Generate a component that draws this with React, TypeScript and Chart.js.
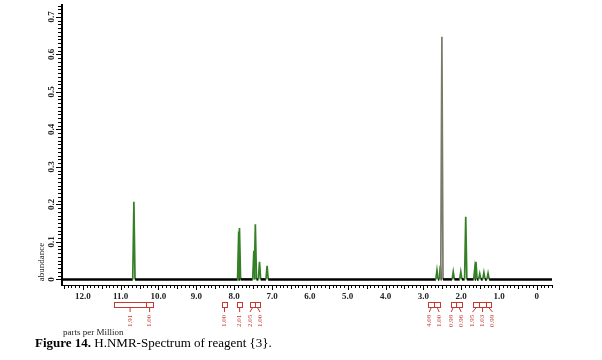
import { useEffect, useRef } from "react";
import { Chart, registerables } from "chart.js";

Chart.register(...registerables);

// 1H NMR peaks: chemical shift (ppm) and abundance
const peakShift = [10.65, 7.88, 7.86, 7.48, 7.44, 7.33, 7.13, 2.64, 2.55, 2.51, 2.21, 2.01, 1.88, 1.64, 1.61, 1.51, 1.4, 1.29];
const peakHeight = [0.207, 0.128, 0.137, 0.076, 0.147, 0.047, 0.036, 0.024, 0.037, 0.647, 0.02, 0.02, 0.167, 0.03, 0.047, 0.015, 0.018, 0.016];

// integration regions (ppm), their values and bracket groups
const intFrom = [11.17, 10.33, 8.32, 7.92, 7.58, 7.45, 2.87, 2.71, 2.28, 2.14, 1.68, 1.52, 1.35];
const intTo = [10.33, 10.14, 8.19, 7.79, 7.45, 7.32, 2.71, 2.56, 2.14, 1.97, 1.52, 1.35, 1.2];
const intValue = ["1.91", "1.00", "1.00", "2.01", "2.05", "1.00", "4.08", "1.00", "0.98", "0.96", "1.95", "1.03", "0.99"];
const intGroup = [0, 0, 1, 2, 3, 3, 4, 4, 5, 5, 6, 6, 6];

// axis ranges and tick labels
const X_MIN = -0.4;
const X_MAX = 12.55;
const Y_MIN = -0.015;
const Y_MAX = 0.732;
const yTickValues = [0, 0.1, 0.2, 0.3, 0.4, 0.5, 0.6, 0.7];
const yTickLabels = ["0", "0.1", "0.2", "0.3", "0.4", "0.5", "0.6", "0.7"];

const HALF_WIDTH = 0.03;
const GREEN = "#357f27";
const TALL = "#7b7b6b";
const RED = "#c43a32";
const SERIF = '"Liberation Serif", "Times New Roman", serif';

function buildSpectrum() {
  const pts: { x: number; y: number }[] = [{ x: X_MAX, y: 0 }];
  const order = peakShift.map((_, i) => i).sort((a, b) => peakShift[b] - peakShift[a]);
  for (const i of order) {
    pts.push({ x: peakShift[i] + HALF_WIDTH, y: 0 });
    pts.push({ x: peakShift[i], y: peakHeight[i] });
    pts.push({ x: peakShift[i] - HALF_WIDTH, y: 0 });
  }
  pts.push({ x: X_MIN, y: 0 });
  return pts;
}

const decorations = {
  id: "nmrDecorations",
  afterDraw(chart: any) {
    const { ctx, chartArea } = chart;
    const x = chart.scales.x;
    const y = chart.scales.y;
    const bottom = chartArea.bottom;
    const left = chartArea.left;
    ctx.save();

    // x ruler ticks
    ctx.strokeStyle = "#000";
    ctx.lineWidth = 1;
    for (let i = Math.ceil(X_MIN * 10); i <= Math.floor(X_MAX * 10); i++) {
      const px = Math.round(x.getPixelForValue(i / 10)) + 0.5;
      const len = i % 10 === 0 ? 5 : i % 5 === 0 ? 4 : 3;
      ctx.beginPath();
      ctx.moveTo(px, bottom);
      ctx.lineTo(px, bottom + len);
      ctx.stroke();
    }

    // y ruler ticks
    for (let i = 0; i <= Math.floor(Y_MAX * 100); i++) {
      const py = Math.round(y.getPixelForValue(i / 100)) + 0.5;
      const len = i % 10 === 0 ? 5 : 3;
      ctx.beginPath();
      ctx.moveTo(left - 1, py);
      ctx.lineTo(left - 1 - len, py);
      ctx.stroke();
    }

    // rotated y tick labels
    ctx.fillStyle = "#222";
    ctx.font = `bold 9px ${SERIF}`;
    ctx.textAlign = "center";
    ctx.textBaseline = "middle";
    yTickValues.forEach((v, i) => {
      ctx.save();
      ctx.translate(left - 10.5, y.getPixelForValue(v));
      ctx.rotate(-Math.PI / 2);
      ctx.fillText(yTickLabels[i], 0, 0);
      ctx.restore();
    });

    // integration brackets
    const boxTop = bottom + 17;
    const boxBottom = bottom + 22;
    const labelBase = bottom + 42;
    const centers = intFrom.map((f, i) => (x.getPixelForValue(f) + x.getPixelForValue(intTo[i])) / 2);
    const labelX = centers.slice();
    const groups = Array.from(new Set(intGroup));
    for (const g of groups) {
      const idx = intGroup.map((gg, i) => (gg === g ? i : -1)).filter((i) => i >= 0);
      let tight = false;
      for (let k = 1; k < idx.length; k++) {
        if (centers[idx[k]] - centers[idx[k - 1]] < 10) tight = true;
      }
      if (tight) {
        const mean = idx.reduce((s, i) => s + centers[i], 0) / idx.length;
        idx.forEach((i, k) => {
          labelX[i] = mean + (k - (idx.length - 1) / 2) * 10;
        });
      }
    }
    ctx.strokeStyle = RED;
    ctx.fillStyle = RED;
    ctx.lineWidth = 1;
    intFrom.forEach((f, i) => {
      const x0 = Math.round(x.getPixelForValue(f)) + 0.5;
      const x1 = Math.round(x.getPixelForValue(intTo[i])) + 0.5;
      ctx.strokeRect(x0, boxTop + 0.5, x1 - x0, boxBottom - boxTop);
      ctx.beginPath();
      ctx.moveTo(centers[i], boxBottom + 0.5);
      ctx.lineTo(labelX[i], boxBottom + 5);
      ctx.stroke();
      ctx.save();
      ctx.translate(labelX[i], labelBase);
      ctx.rotate(-Math.PI / 2);
      ctx.font = `7px ${SERIF}`;
      ctx.textAlign = "left";
      ctx.textBaseline = "middle";
      ctx.fillText(intValue[i], 0, 0);
      ctx.restore();
    });

    ctx.restore();
  },
};

export default function App() {
  const ref = useRef<HTMLCanvasElement>(null);

  useEffect(() => {
    const chart = new Chart(ref.current as HTMLCanvasElement, {
      type: "line",
      data: {
        datasets: [
          {
            data: buildSpectrum(),
            borderColor: GREEN,
            borderWidth: 1.7,
            pointRadius: 0,
            tension: 0,
            fill: false,
            segment: {
              borderColor: (c: any) =>
                c.p0.parsed.y === 0 && c.p1.parsed.y === 0
                  ? "#000"
                  : Math.max(c.p0.parsed.y, c.p1.parsed.y) > 0.3
                  ? TALL
                  : GREEN,
              borderWidth: (c: any) => (c.p0.parsed.y === 0 && c.p1.parsed.y === 0 ? 2.5 : 1.7),
            },
          },
        ],
      },
      options: {
        responsive: false,
        animation: false,
        devicePixelRatio: 1,
        layout: { padding: { left: 0, right: 50, top: 5, bottom: 0 } },
        plugins: { legend: { display: false }, tooltip: { enabled: false } },
        scales: {
          x: {
            type: "linear",
            reverse: true,
            min: X_MIN,
            max: X_MAX,
            grid: { display: false, drawTicks: false },
            border: { display: true, color: "#000", width: 1 },
            ticks: {
              stepSize: 1,
              includeBounds: false,
              autoSkip: false,
              maxRotation: 0,
              padding: 6,
              color: "#222",
              font: { family: SERIF, size: 9, weight: "bold" },
              callback: (v: any) => (Number(v) === 0 ? "0" : Number(v).toFixed(1)),
            },
            afterFit: (s: any) => {
              s.height = 75;
            },
          },
          y: {
            type: "linear",
            min: Y_MIN,
            max: Y_MAX,
            grid: { display: false, drawTicks: false },
            border: { display: true, color: "#000", width: 2 },
            ticks: { display: false },
            afterFit: (s: any) => {
              s.width = 62;
            },
          },
        },
      },
      plugins: [decorations],
    } as any);
    return () => chart.destroy();
  }, []);

  return (
    <div style={{ position: "absolute", left: 0, top: 0, width: 602, height: 360, background: "#fff", overflow: "hidden" }}>
      <canvas ref={ref} width={602} height={360} style={{ position: "absolute", left: 0, top: 0, width: 602, height: 360 }} />
      <div
        style={{
          position: "absolute",
          left: 41,
          top: 262,
          transform: "translate(-50%, -50%) rotate(-90deg)",
          font: `9px ${SERIF}`,
          lineHeight: "9px",
          whiteSpace: "nowrap",
          color: "#222",
        }}
      >
        abundance
      </div>
      <div
        style={{
          position: "absolute",
          left: 63,
          top: 327,
          font: `9px ${SERIF}`,
          lineHeight: "10px",
          whiteSpace: "nowrap",
          color: "#222",
        }}
      >
        parts per Million
      </div>
      <div
        style={{
          position: "absolute",
          left: 35,
          top: 335,
          font: `13px ${SERIF}`,
          lineHeight: "15px",
          whiteSpace: "nowrap",
          color: "#000",
        }}
      >
        <b>Figure 14.</b> H.NMR-Spectrum of reagent {"{3}"}.
      </div>
    </div>
  );
}
